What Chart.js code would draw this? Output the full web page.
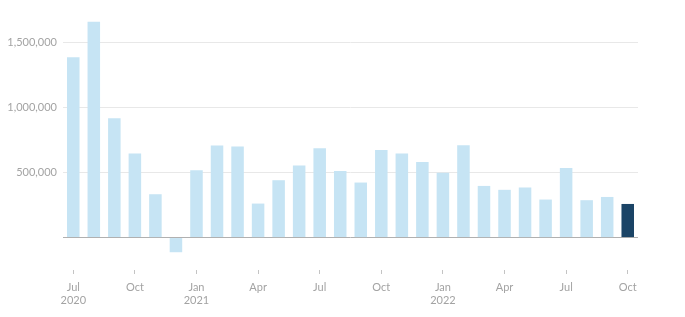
<!DOCTYPE html>
<html>
<head>
<meta charset="utf-8">
<script src="https://cdn.jsdelivr.net/npm/chart.js@4"></script>
<style>
  html, body { margin: 0; padding: 0; background: #fff; }
  #wrap { width: 685px; height: 317px; }
</style>
</head>
<body>
<div id="wrap"><canvas id="jobsChart"></canvas></div>
<script>
// months Jul 2020 .. Oct 2022
const months = [
    ["Jul", "2020"], "Aug", "Sep", "Oct", "Nov", "Dec",
    ["Jan", "2021"], "Feb", "Mar", "Apr", "May", "Jun",
    "Jul", "Aug", "Sep", "Oct", "Nov", "Dec",
    ["Jan", "2022"], "Feb", "Mar", "Apr", "May", "Jun",
    "Jul", "Aug", "Sep", "Oct"
];
const jobsAdded = [
    1389000, 1664000, 920000, 648000, 334000, -113000,
    519000, 710000, 702000, 262000, 442000, 556000,
    689000, 514000, 424000, 674000, 648000, 583000,
    499000, 712000, 398000, 368000, 386000, 293000,
    537000, 288000, 313000, 259000
];
const yTickValues = [0, 500000, 1000000, 1500000];

const lightBlue = "#c6e4f4";
const darkBlue = "#1b4466";
const textGrey = "#a3a3a3";

const barColors = jobsAdded.map((v, i) => i === jobsAdded.length - 1 ? darkBlue : lightBlue);

const ctx = document.getElementById("jobsChart").getContext("2d");
new Chart(ctx, {
    type: "bar",
    data: {
        labels: months,
        datasets: [{
            data: jobsAdded,
            backgroundColor: barColors,
            borderWidth: 0,
            categoryPercentage: 1,
            barPercentage: 0.61
        }]
    },
    options: {
        responsive: true,
        maintainAspectRatio: false,
        animation: false,
        layout: { padding: { top: 17, right: 47, bottom: 0, left: 0 } },
        plugins: {
            legend: { display: false },
            tooltip: { enabled: false }
        },
        scales: {
            x: {
                offset: true,
                border: { display: false },
                grid: {
                    offset: false,
                    drawOnChartArea: false,
                    drawTicks: true,
                    tickLength: 4,
                    color: c => c.index % 3 === 0 ? "#c4c4c4" : "rgba(0,0,0,0)"
                },
                ticks: {
                    autoSkip: false,
                    maxRotation: 0,
                    padding: 7,
                    color: textGrey,
                    font: { family: "Lato, 'Open Sans', sans-serif", size: 11, lineHeight: 1.2 },
                    callback: function (val, i) {
                        return i % 3 === 0 ? this.getLabelForValue(val) : "";
                    }
                },
                afterFit: scale => { scale.height = 47; }
            },
            y: {
                min: -250000,
                max: 1700000,
                border: { display: false },
                afterBuildTicks: scale => {
                    scale.ticks = yTickValues.map(v => ({ value: v }));
                },
                grid: {
                    drawTicks: false,
                    lineWidth: 1,
                    color: c => c.tick && c.tick.value === 0 ? "#b0b0b0" : "#e8e8e8"
                },
                ticks: {
                    padding: 6,
                    color: textGrey,
                    font: { family: "Lato, 'Open Sans', sans-serif", size: 11 },
                    callback: v => v === 0 ? "" : v.toLocaleString("en-US")
                },
                afterFit: scale => { scale.width = 63; }
            }
        }
    }
});
</script>
</body>
</html>
